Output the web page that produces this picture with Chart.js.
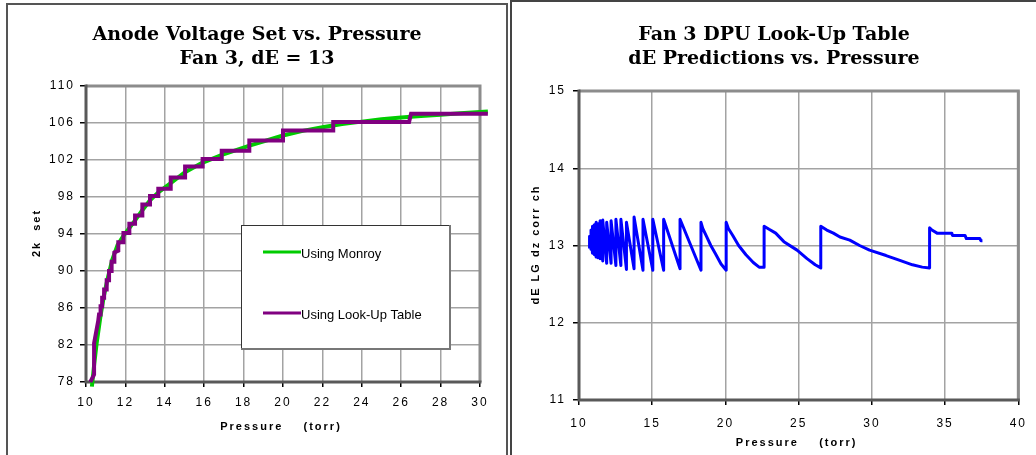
<!DOCTYPE html>
<html>
<head>
<meta charset="utf-8">
<title>Fan 3 anode voltage and dE vs. pressure</title>
<script src="https://cdn.jsdelivr.net/npm/chart.js@4.4.1/dist/chart.umd.min.js"></script>
<style>
    html, body { margin: 0; padding: 0; background: #fff; overflow: hidden; }
    body { width: 1036px; height: 455px; position: relative; }
    .panel { position: absolute; box-sizing: border-box; border: 2px solid #555; }
    #leftPanel { left: 6px; top: 3px; width: 502px; height: 470px; }
    #rightPanel { left: 510px; top: 0; width: 530px; height: 470px; border-color: #444; }
    canvas { position: absolute; }
    #anodeChart { left: 8px; top: 5px; }
    #deChart { left: 512px; top: 2px; }
</style>
</head>
<body>
<div class="panel" id="leftPanel"></div>
<div class="panel" id="rightPanel"></div>
<canvas id="anodeChart" width="498" height="450"></canvas>
<canvas id="deChart" width="524" height="453"></canvas>
<script>
// left chart: anode voltage (2k set) vs pressure
var monroyPressure = [10.3, 10.42, 10.54, 10.74, 10.9, 11.08, 11.33, 11.6, 11.9, 12.2, 12.5, 12.85, 13.25, 13.67, 14.3, 15.0, 15.9, 16.9, 18.3, 20.0, 21.0, 22.0, 23.0, 24.0, 25.0, 26.0, 27.0, 28.0, 29.0, 30.4];
var monroyVoltage = [77.5, 80.0, 82.2, 85.2, 87.2, 89.0, 91.2, 92.8, 93.8, 94.65, 95.5, 96.55, 97.65, 98.5, 99.5, 100.65, 101.7, 102.55, 103.55, 104.65, 105.15, 105.55, 105.9, 106.15, 106.4, 106.6, 106.75, 106.9, 107.05, 107.25];

var tablePressure = [10.22, 10.41, 10.41, 10.62, 10.66, 10.74, 10.74, 10.82, 10.82, 10.92, 10.92, 11.05, 11.05, 11.17, 11.17, 11.3, 11.3, 11.44, 11.44, 11.64, 11.64, 11.9, 11.9, 12.2, 12.2, 12.49, 12.49, 12.86, 12.86, 13.25, 13.25, 13.67, 13.67, 14.3, 14.3, 15.03, 15.03, 15.92, 15.92, 16.89, 16.89, 18.29, 18.29, 20.0, 20.0, 22.55, 22.55, 26.4, 26.5, 30.4];
var tableVoltage = [78.0, 78.8, 82.2, 84.6, 85.3, 85.3, 86.2, 86.2, 87.1, 87.1, 88.0, 88.0, 89.0, 89.0, 90.0, 90.0, 91.0, 91.0, 92.0, 92.2, 93.1, 93.1, 94.1, 94.1, 95.1, 95.1, 96.0, 96.0, 97.2, 97.2, 98.1, 98.1, 98.9, 98.9, 100.1, 100.1, 101.3, 101.3, 102.1, 102.1, 103.0, 103.0, 104.1, 104.1, 105.2, 105.2, 106.1, 106.1, 107.0, 107.0];

var anodeXTicks = [10, 12, 14, 16, 18, 20, 22, 24, 26, 28, 30];
var anodeYTicks = [78, 82, 86, 90, 94, 98, 102, 106, 110];

// right chart: dE predicted with the look-up table
var dePressure = [10.72, 10.72, 10.82, 10.82, 10.92, 10.92, 11.05, 11.05, 11.17, 11.17, 11.3, 11.3, 11.44, 11.44, 11.62, 11.62, 11.89, 11.89, 12.19, 12.19, 12.52, 12.52, 12.86, 12.86, 13.24, 13.24, 13.76, 13.76, 14.37, 14.37, 15.04, 15.04, 15.78, 15.78, 16.9, 16.9, 18.33, 18.33, 18.45, 18.7, 19.0, 19.3, 19.7, 20.05, 20.05, 20.2, 20.5, 20.9, 21.4, 21.9, 22.3, 22.64, 22.64, 22.98, 23.43, 23.99, 24.89, 25.57, 26.13, 26.51, 26.51, 26.92, 27.37, 27.82, 28.49, 29.16, 29.84, 30.97, 31.86, 32.77, 33.44, 33.94, 33.94, 34.1, 34.45, 35.46, 35.5, 36.36, 36.45, 37.37, 37.45, 37.55];
var deValue = [12.96, 13.12, 12.95, 13.2, 12.9, 13.25, 12.88, 13.27, 12.85, 13.3, 12.84, 13.28, 12.83, 13.32, 12.8, 13.33, 12.77, 13.3, 12.77, 13.32, 12.74, 13.34, 12.74, 13.34, 12.69, 13.3, 12.7, 13.37, 12.68, 13.34, 12.68, 13.34, 12.68, 13.34, 12.7, 13.34, 12.68, 13.3, 13.22, 13.12, 13.0, 12.9, 12.76, 12.68, 13.3, 13.22, 13.13, 13.0, 12.88, 12.78, 12.72, 12.72, 13.25, 13.21, 13.16, 13.05, 12.94, 12.83, 12.75, 12.71, 13.25, 13.2, 13.16, 13.11, 13.07, 13.0, 12.94, 12.87, 12.81, 12.75, 12.72, 12.71, 13.23, 13.2, 13.16, 13.16, 13.13, 13.13, 13.09, 13.09, 13.06, 13.06];

var deXTicks = [10, 15, 20, 25, 30, 35, 40];
var deYTicks = [11, 12, 13, 14, 15];

var tickFont = { family: '"Liberation Sans", Arial, sans-serif', size: 12 };
var gridColor = '#a3a3a3';

function toPoints(xs, ys) {
    return xs.map(function (x, i) { return { x: x, y: ys[i] }; });
}

function fixedTicks(values) {
    return function (scale) {
        scale.ticks = values.map(function (v) { return { value: v }; });
    };
}

function fixedSize(prop, size) {
    return function (scale) { scale[prop] = size; };
}

// grey frame round the plot area, dark on the axis sides
var plotFrame = {
    id: 'plotFrame',
    beforeDraw: function (chart) {
        chart.ctx.letterSpacing = '2px';
    },
    beforeDatasetsDraw: function (chart) {
        var a = chart.chartArea;
        var c = chart.ctx;
        c.save();
        c.lineWidth = 3;
        c.strokeStyle = '#8c8c8c';
        c.beginPath();
        c.moveTo(a.left, a.top);
        c.lineTo(a.right, a.top);
        c.lineTo(a.right, a.bottom);
        c.stroke();
        c.strokeStyle = '#595959';
        c.beginPath();
        c.moveTo(a.left, a.top - 1.5);
        c.lineTo(a.left, a.bottom);
        c.lineTo(a.right + 1.5, a.bottom);
        c.stroke();
        c.restore();
    }
};

function makeTextPlugin(t) {
    return {
        id: 'panelText',
        afterDraw: function (chart) {
            var a = chart.chartArea;
            var c = chart.ctx;
            c.save();
            c.fillStyle = '#000';
            c.letterSpacing = '0px';
            c.font = 'bold 19px "DejaVu Serif", serif';
            c.textAlign = 'center';
            c.textBaseline = 'alphabetic';
            t.title.forEach(function (line, i) {
                c.fillText(line, chart.width / 2, t.titleY + i * 23.5);
            });
            c.letterSpacing = '2px';
            c.font = 'bold 11px "Liberation Sans", Arial, sans-serif';
            c.fillText(t.xTitle, (a.left + a.right) / 2 - 2, a.bottom + t.xGap);
            c.translate(a.left - t.yGap, (a.top + a.bottom) / 2);
            c.rotate(-Math.PI / 2);
            c.fillText(t.yTitle, 1, 0);
            c.restore();
        }
    };
}

// boxed legend sitting inside the plot, as in the spreadsheet chart
var boxLegend = {
    id: 'boxLegend',
    afterDatasetsDraw: function (chart) {
        var a = chart.chartArea;
        var c = chart.ctx;
        var x = a.left + 155, y = a.top + 139, w = 208, h = 123;
        c.save();
        c.fillStyle = '#fff';
        c.fillRect(x, y, w, h);
        c.lineWidth = 1;
        c.strokeStyle = '#333';
        c.strokeRect(x + 0.5, y + 0.5, w, h);
        c.lineWidth = 2;
        c.strokeStyle = '#777';
        c.beginPath();
        c.moveTo(x + w + 1, y);
        c.lineTo(x + w + 1, y + h + 1);
        c.lineTo(x, y + h + 1);
        c.stroke();
        c.letterSpacing = '0px';
        c.font = '13px "Liberation Sans", Arial, sans-serif';
        c.textBaseline = 'middle';
        c.textAlign = 'left';
        chart.data.datasets.forEach(function (ds, i) {
            var ly = y + 27 + i * 61;
            c.strokeStyle = ds.borderColor;
            c.lineWidth = 3;
            c.beginPath();
            c.moveTo(x + 22, ly);
            c.lineTo(x + 60, ly);
            c.stroke();
            c.fillStyle = '#000';
            c.fillText(ds.label, x + 60, ly + 2);
        });
        c.restore();
    }
};

function axis(ticks, min, max, tickLen, pad, prop, size) {
    return {
        type: 'linear',
        min: min,
        max: max,
        afterBuildTicks: fixedTicks(ticks),
        afterFit: fixedSize(prop, size),
        border: { display: false },
        grid: { color: gridColor, lineWidth: 1.5, tickLength: tickLen, tickColor: '#000', drawTicks: true },
        ticks: { font: tickFont, color: '#000', padding: pad, maxRotation: 0, autoSkip: false }
    };
}

new Chart(document.getElementById('anodeChart'), {
    type: 'scatter',
    data: {
        datasets: [{
            label: 'Using Monroy',
            data: toPoints(monroyPressure, monroyVoltage),
            showLine: true,
            borderColor: '#00cc00',
            borderWidth: 4,
            borderJoinStyle: 'round',
            pointRadius: 0,
            order: 1,
            clip: false
        }, {
            label: 'Using Look-Up Table',
            data: toPoints(tablePressure, tableVoltage),
            showLine: true,
            borderColor: '#800080',
            borderWidth: 4,
            borderJoinStyle: 'miter',
            pointRadius: 0,
            order: 0,
            clip: false
        }]
    },
    options: {
        responsive: false,
        animation: false,
        events: [],
        layout: { padding: { left: 0, top: 81, right: 26, bottom: 0 } },
        plugins: { legend: { display: false }, tooltip: { enabled: false }, title: { display: false } },
        scales: {
            x: axis(anodeXTicks, 10, 30, 5, 8, 'height', 73),
            y: axis(anodeYTicks, 78, 110, 6, 5, 'width', 78)
        }
    },
    plugins: [plotFrame, boxLegend, makeTextPlugin({
        title: ['Anode Voltage Set vs. Pressure', 'Fan 3, dE = 13'],
        titleY: 35,
        xTitle: 'Pressure    (torr)',
        xGap: 48,
        yTitle: '2k  set',
        yGap: 46
    })]
});

new Chart(document.getElementById('deChart'), {
    type: 'scatter',
    data: {
        datasets: [{
            label: 'dE LG dz corr ch',
            data: toPoints(dePressure, deValue),
            showLine: true,
            borderColor: '#0000ff',
            borderWidth: 3,
            borderJoinStyle: 'round',
            pointRadius: 0
        }]
    },
    options: {
        responsive: false,
        animation: false,
        events: [],
        layout: { padding: { left: 0, top: 89, right: 12, bottom: 0 } },
        plugins: { legend: { display: false }, tooltip: { enabled: false }, title: { display: false } },
        scales: {
            x: axis(deXTicks, 10, 40, 5, 11, 'height', 55),
            y: axis(deYTicks, 11, 15, 6, 7, 'width', 67)
        }
    },
    plugins: [plotFrame, makeTextPlugin({
        title: ['Fan 3 DPU Look-Up Table', 'dE Predictions vs. Pressure'],
        titleY: 38,
        xTitle: 'Pressure    (torr)',
        xGap: 46,
        yTitle: 'dE LG dz corr ch',
        yGap: 40
    })]
});
</script>
</body>
</html>
